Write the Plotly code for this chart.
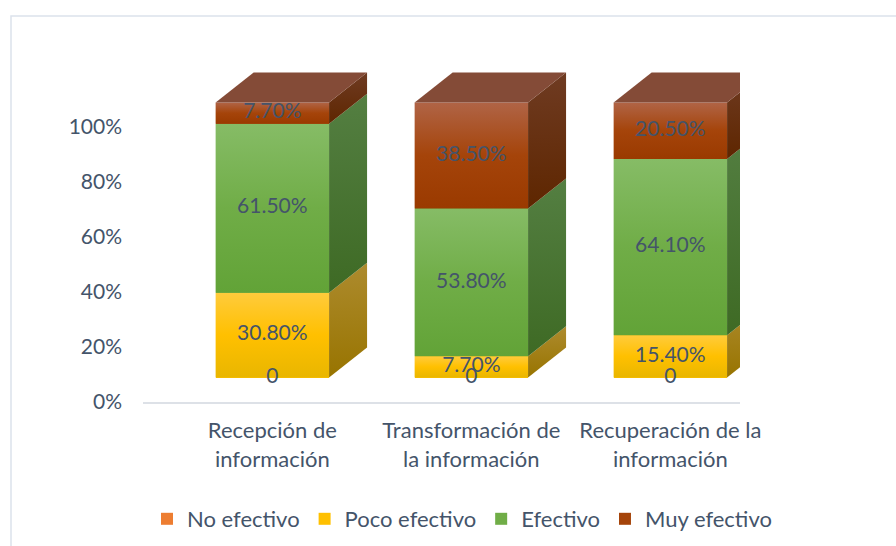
import plotly.graph_objects as go

categories = ["Recepción de<br>información", "Transformación de<br>la información", "Recuperación de la<br>información"]
series_names = ["No efectivo", "Poco efectivo", "Efectivo", "Muy efectivo"]
no_efectivo = [0, 0, 0]
poco_efectivo = [30.8, 7.7, 15.4]
efectivo = [61.5, 53.8, 64.1]
muy_efectivo = [7.7, 38.5, 20.5]
y_ticks = [0, 20, 40, 60, 80, 100]
y_ticktext = ["0%", "20%", "40%", "60%", "80%", "100%"]

series = [no_efectivo, poco_efectivo, efectivo, muy_efectivo]
front_colors = ["#ED7D31", "#FFC000", "#70AD47", "#A5440A"]
front_grad = [
    [[0, "#D96A20"], [0.5, "#ED7D31"], [1, "#F29A5E"]],
    [[0, "#E9B600"], [0.5, "#FFC000"], [1, "#FFCB3C"]],
    [[0, "#62A337"], [0.5, "#70AD47"], [1, "#86BC66"]],
    [[0, "#9A3A00"], [0.5, "#A5440A"], [1, "#B06446"]],
]
side_grad = [
    [[0, "#A04E14"], [1, "#B86A38"]],
    [[0, "#987400"], [1, "#AD8B2E"]],
    [[0, "#3E6A24"], [1, "#547F42"]],
    [[0, "#5E2600"], [1, "#6F3B22"]],
]
top_color = "#844B37"
text_color = "#44546A"
FONT = "Lato"

W, H = 896, 546
L, R, T, B = 143, 156, 60, 144
px_per_pct = 2.75
bar_w = 0.57
dx = 38 / 199.0
dy = 30 / px_per_pct
front_shift = 24.5 / px_per_pct
ymax = (H - B - T) / px_per_pct

xs = list(range(len(categories)))
fig = go.Figure()

# front faces (bars)
for name, vals, col in zip(series_names, series, front_colors):
    fig.add_trace(go.Bar(
        x=xs, y=vals, name=name, marker=dict(color=col, line=dict(width=0)),
        width=bar_w, yaxis="y2", hoverinfo="skip"))

# shading of front faces, side & top faces, labels
lab_x, lab_y, lab_t = [], [], []
for i in xs:
    base = 0.0
    xl, xr = i - bar_w / 2, i + bar_w / 2
    for k, vals in enumerate(series):
        v = vals[i]
        b, t = base, base + v
        if v > 0:
            fig.add_trace(go.Scatter(
                x=[xl, xr, xr, xl, xl], y=[b, b, t, t, b],
                fill="toself", mode="lines",
                fillgradient=dict(type="vertical", colorscale=front_grad[k]),
                line=dict(width=0, color=front_colors[k]),
                yaxis="y2", showlegend=False, hoverinfo="skip"))
            fig.add_trace(go.Scatter(
                x=[xr, xr + dx, xr + dx, xr, xr],
                y=[b, b + dy, t + dy, t, b],
                fill="toself", mode="lines",
                fillgradient=dict(type="vertical", colorscale=side_grad[k]),
                line=dict(width=0, color=side_grad[k][0][1]),
                yaxis="y2", showlegend=False, hoverinfo="skip"))
        if k == 0 or v > 0:
            lab_x.append(i)
            lab_y.append((b + t) / 2)
            lab_t.append("0" if v == 0 else f"{v:.2f}%")
        base = t
    fig.add_trace(go.Scatter(
        x=[xl, xr, xr + dx, xl + dx, xl],
        y=[base, base, base + dy, base + dy, base],
        fill="toself", fillcolor=top_color, mode="lines",
        line=dict(width=0, color=top_color),
        yaxis="y2", showlegend=False, hoverinfo="skip"))

fig.add_trace(go.Scatter(
    x=lab_x, y=lab_y, text=lab_t, mode="text",
    textfont=dict(family=FONT, size=21, color=text_color),
    yaxis="y2", showlegend=False, hoverinfo="skip"))

# anchor trace so the visible percentage axis is drawn
fig.add_trace(go.Scatter(x=[None], y=[None], yaxis="y", mode="markers",
                         showlegend=False, hoverinfo="skip"))

fig.update_layout(
    width=W, height=H,
    margin=dict(l=L, r=R, t=T, b=B, autoexpand=False),
    paper_bgcolor="white", plot_bgcolor="rgba(0,0,0,0)",
    barmode="stack", bargap=0,
    font=dict(family=FONT, size=21, color=text_color),
    xaxis=dict(range=[-0.65, 2.35], tickvals=xs, ticktext=categories,
               showgrid=False, zeroline=False, showline=True,
               linecolor="#DDE1E7", linewidth=1.5, ticks="",
               tickfont=dict(size=22), automargin=False,
               ticklabelstandoff=8, fixedrange=True),
    yaxis=dict(range=[0, ymax], tickvals=y_ticks, ticktext=y_ticktext,
               showgrid=False, zeroline=False, showline=False, ticks="",
               tickfont=dict(size=21), automargin=False,
               ticklabelstandoff=20, fixedrange=True),
    yaxis2=dict(range=[-front_shift, ymax - front_shift], overlaying="y",
                visible=False, fixedrange=True),
    legend=dict(orientation="h", xref="paper", yref="paper",
                x=(777 - L) / (W - L - R), xanchor="right",
                y=(H - B - 519) / (H - B - T), yanchor="middle",
                font=dict(family=FONT, size=22, color=text_color),
                traceorder="normal"),
    showlegend=True,
    shapes=[dict(type="rect", xref="paper", yref="paper",
                 x0=(11 - L) / (W - L - R), x1=2,
                 y0=-2, y1=(H - B - 16) / (H - B - T),
                 line=dict(color="#DCE2EC", width=1.5), layer="below")],
)

fig.write_html("out.html", config={"displayModeBar": False},
               post_script="document.body.style.margin='0';document.body.style.overflow='hidden';")
